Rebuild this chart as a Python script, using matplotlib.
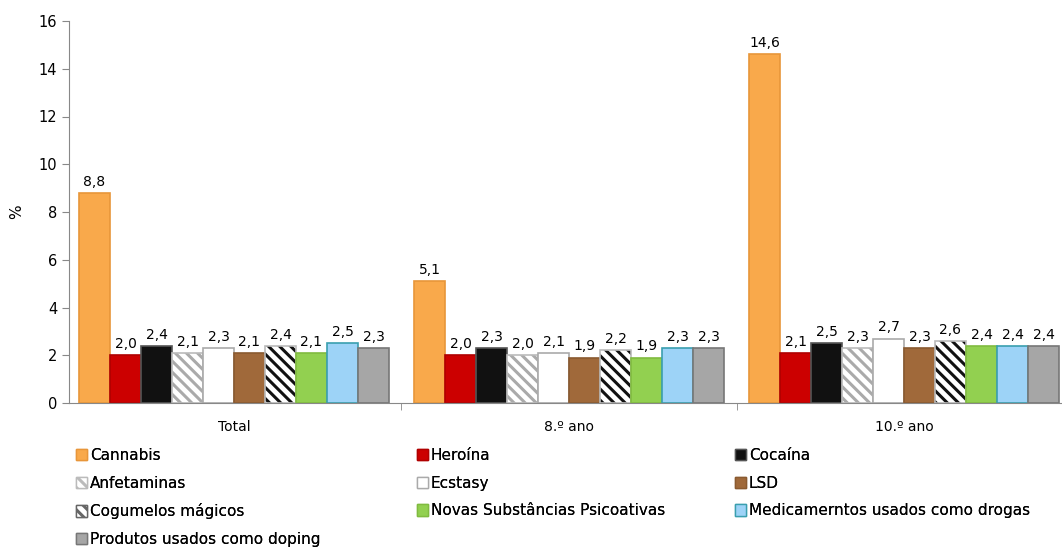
import numpy as np
import matplotlib
matplotlib.use("Agg")
import matplotlib.pyplot as plt
from matplotlib.patches import Patch

plt.rcParams['font.family'] = ['DejaVu Sans']
plt.rcParams['hatch.linewidth'] = 2.2

groups = ['Total', '8.º ano', '10.º ano']
drugs = ['Cannabis', 'Heroína', 'Cocaína', 'Anfetaminas', 'Ecstasy', 'LSD',
         'Cogumelos mágicos', 'Novas Substâncias Psicoativas',
         'Medicamerntos usados como drogas', 'Produtos usados como doping']
total = [8.8, 2.0, 2.4, 2.1, 2.3, 2.1, 2.4, 2.1, 2.5, 2.3]
ano8 = [5.1, 2.0, 2.3, 2.0, 2.1, 1.9, 2.2, 1.9, 2.3, 2.3]
ano10 = [14.6, 2.1, 2.5, 2.3, 2.7, 2.3, 2.6, 2.4, 2.4, 2.4]

faces = ['#F9A94B', '#CC0000', '#111111', 'white', 'white', '#A0693A',
         'white', '#92D050', '#9DD3F7', '#A6A6A6']
edges = ['#E8963A', '#B00000', '#555555', '#BBBBBB', '#AAAAAA', '#8A5A30',
         '#666666', '#80BB40', '#3A9FAF', '#777777']
hatches = [None, None, None, '\\\\\\', None, None, '\\\\\\', None, None, None]
hatch_cols = [None, None, None, '#AAAAAA', None, None, '#111111', None, None, None]

data = np.array([total, ano8, ano10])  # groups x drugs

fig = plt.figure(figsize=(10.62, 5.51), dpi=100)
ax = fig.add_axes([69/1062, 1-403/551, 1-69/1062, (403-21)/551])

x = np.arange(len(groups))
w = 0.0925
handles = []
for i, d in enumerate(drugs):
    pos = x + (i - 4.5) * w
    kw = dict(color=faces[i], edgecolor=edges[i], linewidth=1.2)
    if hatches[i]:
        kw['hatch'] = hatches[i]
        kw['edgecolor'] = hatch_cols[i]
    b = ax.bar(pos, data[:, i], w, **kw)
    if hatches[i]:
        for r in b:
            r.set_linewidth(0)
        ax.bar(pos, data[:, i], w, fill=False, edgecolor='#BBBBBB', linewidth=1.2)
    handles.append(Patch(facecolor=faces[i], edgecolor=edges[i], linewidth=1,
                         hatch=hatches[i]))
    for px, v in zip(pos, data[:, i]):
        ax.annotate(f'{v:.1f}'.replace('.', ','), (px, v), xytext=(0, 3),
                    textcoords='offset points', ha='center', va='bottom',
                    fontsize=10)

ax.set_xlim(-0.4925, 2.4716)
ax.set_ylim(0, 16)
ax.set_yticks(range(0, 17, 2))
ax.set_xticks(x)
ax.set_xticklabels(groups, fontsize=10)
ax.set_xticks([0.5, 1.5], minor=True)
ax.tick_params(axis='x', which='major', length=0, pad=12)
ax.tick_params(axis='x', which='minor', length=5, color='#888888')
ax.tick_params(axis='y', length=5, color='#888888', labelsize=10.5)
for s in ['top', 'right']:
    ax.spines[s].set_visible(False)
for s in ['left', 'bottom']:
    ax.spines[s].set_color('#888888')
ax.set_ylabel('%', fontsize=11)
ax.yaxis.set_label_coords(-0.045, 0.5)

legx = [76, 417, 735]
for c in range(3):
    leg = fig.legend(handles=handles[c::3], labels=drugs[c::3],
                     loc='upper left', bbox_to_anchor=(legx[c]/1062, 1-448/551),
                     frameon=False, fontsize=11, handlelength=0.75,
                     handleheight=0.75, handletextpad=0.15, labelspacing=0.83,
                     borderpad=0, borderaxespad=0)
    fig.add_artist(leg)

fig.savefig('out.png', dpi=100)
